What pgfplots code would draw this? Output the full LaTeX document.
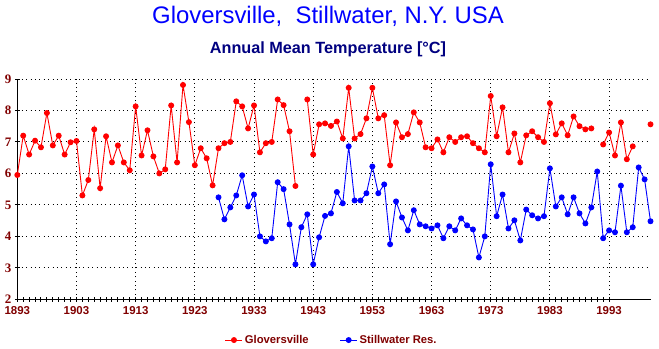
\documentclass[border=0pt]{standalone}
\usepackage{pgfplots}
\usepackage{pgfplotstable}
\pgfplotsset{compat=1.18}
\usepackage{fontspec}
\setmainfont{Liberation Sans}
\newfontfamily\yfont{Liberation Serif}
\definecolor{dred}{HTML}{800000}
\definecolor{navy}{HTML}{000080}
\definecolor{pred}{HTML}{FF0000}
\definecolor{pblue}{HTML}{0000FF}

\pgfplotstableread{
year t
1893 5.95
1894 7.20
1895 6.60
1896 7.04
1897 6.83
1898 7.92
1899 6.89
1900 7.20
1901 6.60
1902 6.99
1903 7.03
1904 5.30
1905 5.79
1906 7.40
1907 5.53
1908 7.18
1909 6.35
1910 6.89
1911 6.35
1912 6.10
1913 8.13
1914 6.57
1915 7.37
1916 6.54
1917 6.00
1918 6.13
1919 8.16
1920 6.35
1921 8.81
1922 7.63
1923 6.26
1924 6.80
1925 6.48
1926 5.62
1927 6.80
1928 6.96
1929 7.00
1930 8.29
1931 8.13
1932 7.43
1933 8.16
1934 6.67
1935 6.96
1936 7.00
1937 8.35
1938 8.17
1939 7.34
1940 5.60
1941 nan
1942 8.35
1943 6.60
1944 7.56
1945 7.59
1946 7.51
1947 7.65
1948 7.11
1949 8.72
1950 7.11
1951 7.25
1952 7.75
1953 8.72
1954 7.75
1955 7.85
1956 6.26
1957 7.62
1958 7.15
1959 7.25
1960 7.94
1961 7.62
1962 6.83
1963 6.80
1964 7.08
1965 6.67
1966 7.15
1967 7.00
1968 7.15
1969 7.18
1970 6.96
1971 6.80
1972 6.67
1973 8.46
1974 7.18
1975 8.10
1976 6.67
1977 7.27
1978 6.35
1979 7.21
1980 7.34
1981 7.15
1982 7.00
1983 8.23
1984 7.24
1985 7.59
1986 7.21
1987 7.81
1988 7.50
1989 7.40
1990 7.43
1991 nan
1992 6.92
1993 7.30
1994 6.57
1995 7.62
1996 6.45
1997 6.86
1998 nan
1999 nan
2000 7.56
}\glov

\pgfplotstableread{
year t
1927 5.24
1928 4.54
1929 4.92
1930 5.30
1931 5.94
1932 4.95
1933 5.33
1934 4.00
1935 3.84
1936 3.94
1937 5.72
1938 5.50
1939 4.38
1940 3.11
1941 4.29
1942 4.70
1943 3.11
1944 3.97
1945 4.65
1946 4.73
1947 5.41
1948 5.05
1949 6.86
1950 5.14
1951 5.14
1952 5.37
1953 6.22
1954 5.37
1955 5.65
1956 3.75
1957 5.11
1958 4.60
1959 4.19
1960 4.83
1961 4.38
1962 4.32
1963 4.25
1964 4.35
1965 3.94
1966 4.32
1967 4.19
1968 4.57
1969 4.35
1970 4.22
1971 3.33
1972 4.00
1973 6.29
1974 4.64
1975 5.33
1976 4.25
1977 4.51
1978 3.87
1979 4.85
1980 4.67
1981 4.57
1982 4.64
1983 6.16
1984 4.95
1985 5.24
1986 4.70
1987 5.24
1988 4.73
1989 4.41
1990 4.92
1991 6.06
1992 3.94
1993 4.19
1994 4.13
1995 5.61
1996 4.13
1997 4.29
1998 6.19
1999 5.81
2000 4.48
}\still

\begin{document}
\begin{tikzpicture}
\path[use as bounding box] (0,0) rectangle (659bp,349bp);
\node[anchor=base, font=\fontsize{24}{24}\selectfont, text=pblue] at (328bp,325.7bp) {Gloversville,\ \ Stillwater, N.Y. USA};
\node[anchor=base, font=\bfseries\fontsize{16.3}{16.3}\selectfont, text=navy] at (328bp,295.5bp) {Annual Mean Temperature [°C]};
\begin{axis}[
  at={(17.3bp,49.7bp)}, anchor=south west,
  scale only axis, width=633.2bp, height=220.3bp,
  xmin=1893, xmax=2000, ymin=2, ymax=9,
  axis x line*=bottom, axis y line*=left,
  axis line style={black, line width=1.4bp},
  xtick={1893,1903,...,1993},
  minor x tick num=9,
  ytick={2,3,...,9},
  tick align=center,
  major tick length=5bp, minor tick length=5bp,
  every tick/.style={black, line width=1bp},
  xmajorgrids, ymajorgrids,
  major grid style={black, line width=1bp, dash pattern=on 1bp off 3.4bp},
  /pgf/number format/.cd, 1000 sep={}, assume math mode=true, /pgfplots/.cd,
  xticklabel style={font=\bfseries\fontsize{11.5}{11.5}\selectfont, text=dred, yshift=-1bp},
  yticklabel style={font=\yfont\bfseries\fontsize{13}{13}\selectfont, text=dred},
  unbounded coords=jump,
  legend columns=2,
  legend style={draw=none, fill=none, at={(0.323,-0.185)}, anchor=west,
    font=\bfseries\fontsize{11.3}{11.3}\selectfont, text=dred,
    /tikz/every even column/.append style={column sep=29bp}},
  legend cell align=left,
]
\addplot[pred, line width=0.9bp, mark=*, mark size=2.5bp, mark options={solid, fill=pred}] table[x=year,y=t] {\glov};
\addlegendentry{Gloversville}
\addplot[pblue, line width=0.9bp, mark=*, mark size=2.5bp, mark options={solid, fill=pblue}] table[x=year,y=t] {\still};
\addlegendentry{Stillwater Res.}
\end{axis}
\end{tikzpicture}
\end{document}
